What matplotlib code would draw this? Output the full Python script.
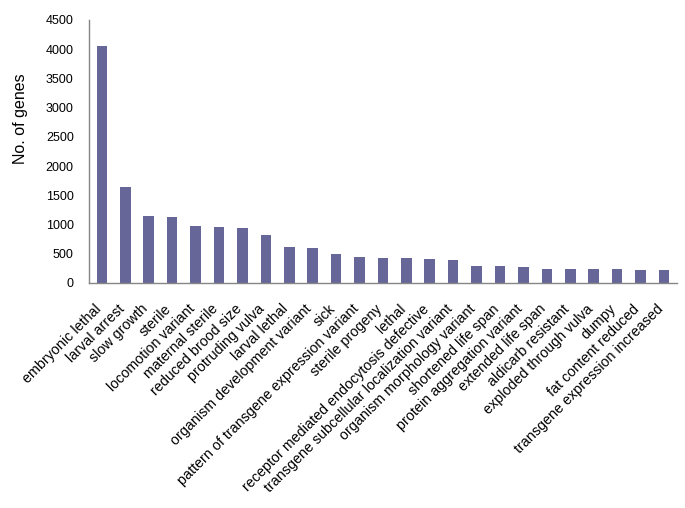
import matplotlib.pyplot as plt
import matplotlib.transforms as mtransforms
import numpy as np

plt.rcParams['font.family'] = ['Liberation Sans', 'DejaVu Sans']

# phenotype categories and gene counts
phenotypes = ['embryonic lethal', 'larval arrest', 'slow growth', 'sterile',
              'locomotion variant', 'maternal sterile', 'reduced brood size',
              'protruding vulva', 'larval lethal', 'organism development variant',
              'sick', 'pattern of transgene expression variant', 'sterile progeny',
              'lethal', 'receptor mediated endocytosis defective',
              'transgene subcellular localization variant',
              'organism morphology variant', 'shortened life span',
              'protein aggregation variant', 'extended life span',
              'aldicarb resistant', 'exploded through vulva', 'dumpy',
              'fat content reduced', 'transgene expression increased']
gene_counts = [4050, 1640, 1150, 1120, 980, 960, 940, 820, 620, 600,
               500, 450, 430, 430, 410, 390, 285, 285, 265, 245,
               245, 233, 233, 216, 216]
yticks = [0, 500, 1000, 1500, 2000, 2500, 3000, 3500, 4000, 4500]

fig = plt.figure(figsize=(6.85, 5.08), dpi=100)
ax = fig.add_axes([0.130, 0.443, 0.858, 0.518])

x = np.arange(len(phenotypes))
ax.bar(x, gene_counts, width=0.45, color='#666699')

ax.set_ylim(0, 4500)
ax.set_xlim(-0.55, len(phenotypes) - 0.45)
ax.set_yticks(yticks)
ax.set_xticks(x)
ax.set_xticklabels(phenotypes, rotation=45, ha='right', rotation_mode='anchor',
                   fontsize=10.3)
ax.tick_params(axis='y', labelsize=9, length=0, pad=11)
ax.tick_params(axis='x', length=0, pad=0)

# shift the slanted labels a bit left and down like the original
shift = mtransforms.ScaledTranslation(-8 / 100, -19 / 100, fig.dpi_scale_trans)
for lab in ax.get_xticklabels():
    lab.set_transform(lab.get_transform() + shift)

ax.set_ylabel('No. of genes', fontsize=11.5)
ax.yaxis.set_label_coords(-0.104, 0.623)

for s in ['top', 'right']:
    ax.spines[s].set_visible(False)
for s in ['left', 'bottom']:
    ax.spines[s].set_color('#868686')
    ax.spines[s].set_linewidth(1)

fig.savefig('out.png', dpi=100)
